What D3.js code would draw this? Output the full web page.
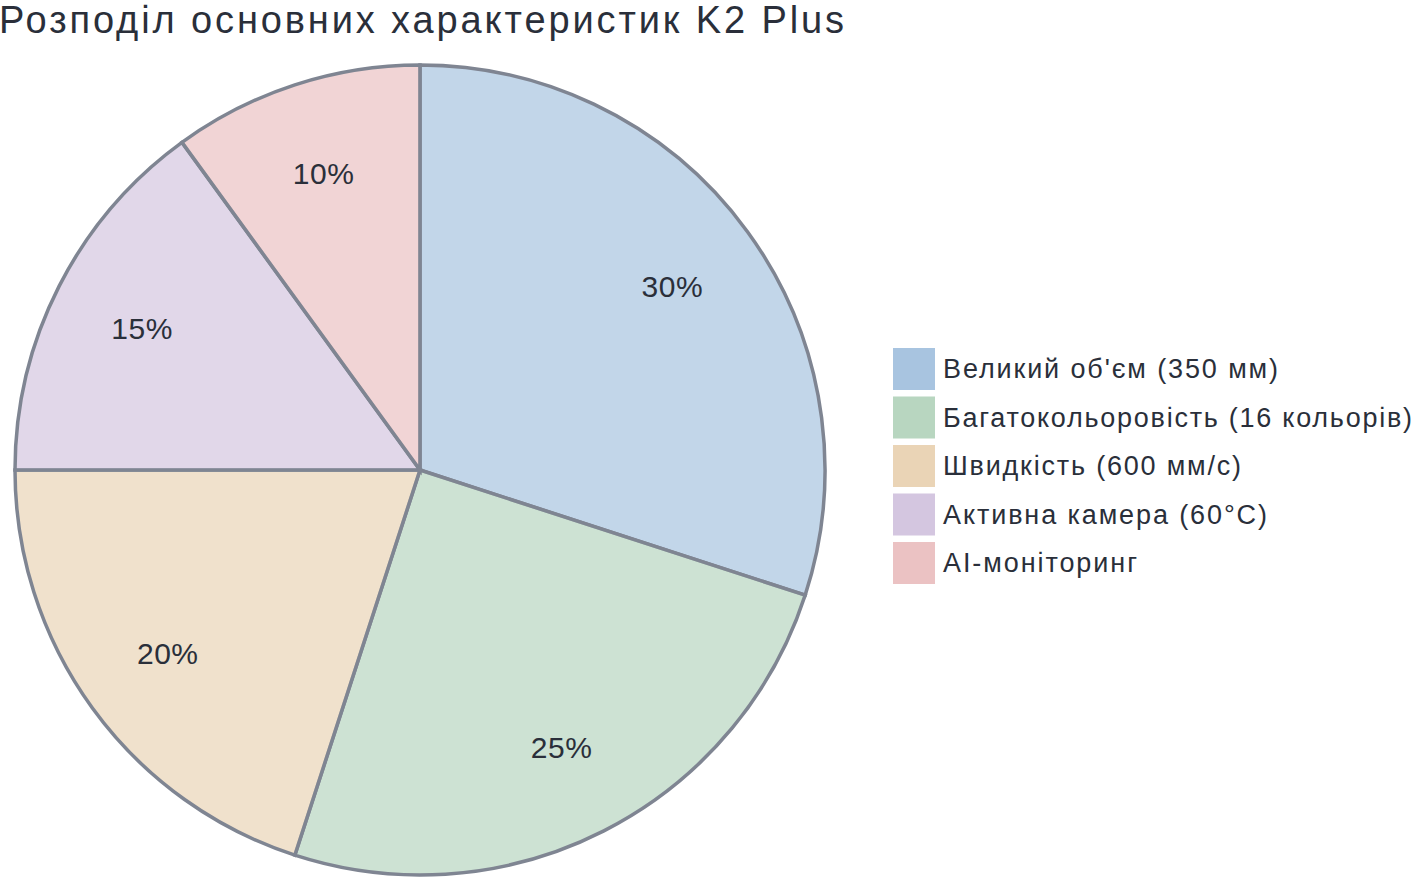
<!DOCTYPE html>
<html><head><meta charset="utf-8">
<script src="https://cdn.jsdelivr.net/npm/d3@7"></script>
<style>body{margin:0;background:#fff}svg{font-family:"Liberation Sans",Arial,sans-serif}</style>
</head><body><div id="chart"></div>
<script>
const categories = ["Великий об'єм (350 мм)", "Багатокольоровість (16 кольорів)", "Швидкість (600 мм/с)", "Активна камера (60°C)", "AI-моніторинг"]
const values = [30, 25, 20, 15, 10]
const colors = ["#a8c4e0", "#b8d6c0", "#ead4b6", "#d4c6e0", "#ebc2c3"]

const width = 1412, height = 880
const cx = 420, cy = 470, radius = 405

const svg = d3.select("#chart").append("svg")
    .attr("width", width).attr("height", height)

svg.append("text")
    .attr("x", -1).attr("y", 33)
    .attr("font-size", 38).attr("fill", "#2a2f3a")
    .attr("textLength", 845).attr("lengthAdjust", "spacing")
    .text("Розподіл основних характеристик K2 Plus")

const pie = d3.pie().sort(null).value(d => d)
const arc = d3.arc().innerRadius(0).outerRadius(radius)
const labelArc = d3.arc().innerRadius(radius * 0.77).outerRadius(radius * 0.77)

const g = svg.append("g").attr("transform", `translate(${cx},${cy})`)
const arcs = pie(values)

g.selectAll("path").data(arcs).enter().append("path")
    .attr("d", arc)
    .attr("fill", (d, i) => colors[i])
    .attr("fill-opacity", 0.7)
    .attr("stroke", "#7f8592")
    .attr("stroke-width", 3.5)

g.selectAll("text.lbl").data(arcs).enter().append("text")
    .attr("class", "lbl")
    .attr("transform", d => `translate(${labelArc.centroid(d)})`)
    .attr("text-anchor", "middle").attr("dy", "0.35em")
    .attr("font-size", 30).attr("fill", "#2a2f3a")
    .attr("letter-spacing", 0.5)
    .text(d => d.data + "%")

// legend text widths
const legendWidths = [335, 469, 298, 324, 194]
const legend = svg.append("g").attr("transform", "translate(893,348)")
const item = legend.selectAll("g").data(categories).enter().append("g")
    .attr("transform", (d, i) => `translate(0,${i * 48.5})`)
item.append("rect").attr("width", 42).attr("height", 42)
    .attr("fill", (d, i) => colors[i])
item.append("text").attr("x", 50).attr("y", 21).attr("dy", "0.35em")
    .attr("font-size", 27).attr("fill", "#2a2f3a")
    .attr("textLength", (d, i) => legendWidths[i]).attr("lengthAdjust", "spacing")
    .text(d => d)
</script></body></html>
